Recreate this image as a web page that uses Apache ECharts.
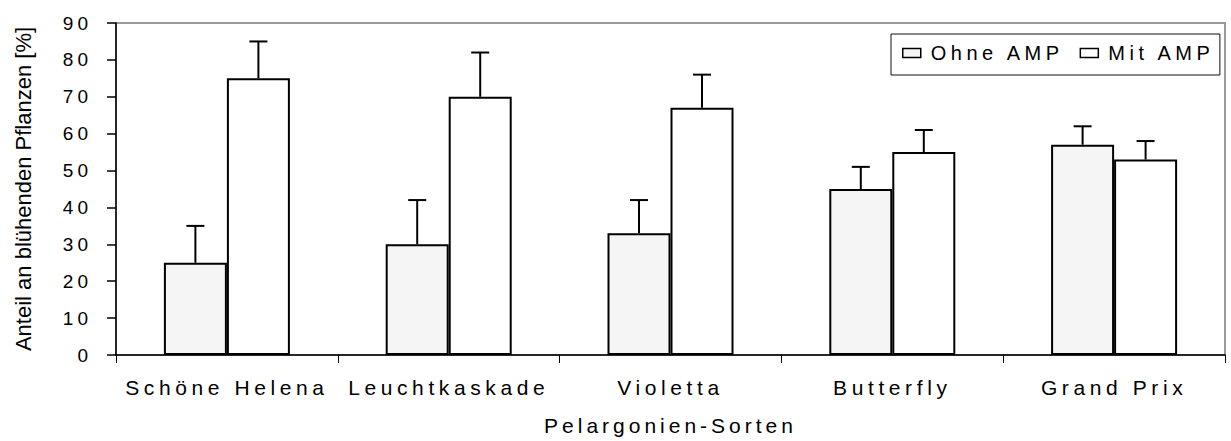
<!DOCTYPE html>
<html>
<head>
<meta charset="utf-8">
<script src="https://cdn.jsdelivr.net/npm/echarts@6/dist/echarts.min.js"></script>
<style>
html, body { margin: 0; padding: 0; background: #fff; }
#chart { width: 1231px; height: 441px; }
#chart text[style*="ytk"], #chart text[font-family*="ytk"] { letter-spacing: 4px; }
#chart text[style*="xct"], #chart text[font-family*="xct"] { letter-spacing: 4.6px; }
#chart text[style*="xtl"], #chart text[font-family*="xtl"] { letter-spacing: 4px; }
#chart text[style*="lgd"], #chart text[font-family*="lgd"] { letter-spacing: 4.5px; }
</style>
</head>
<body>
<div id="chart"></div>
<script>
// ---- data ----
const categories = ['Schöne Helena', 'Leuchtkaskade', 'Violetta', 'Butterfly', 'Grand Prix'];
const seriesNames = ['Ohne AMP', 'Mit AMP'];
const ohneAMP = [25, 30, 33, 45, 57];
const ohneAMPErr = [10, 12, 9, 6, 5];
const mitAMP = [75, 70, 67, 55, 53];
const mitAMPErr = [10, 12, 9, 6, 5];
const yMin = 0, yMax = 90, yInterval = 10;
const xAxisTitle = 'Pelargonien-Sorten';
const yAxisTitle = 'Anteil an blühenden Pflanzen [%]';

// ---- style ----
const BAR_W = 63;
const CAP_W = 18;
const FONT = 'Liberation Sans';

function errData(vals, errs) {
  return vals.map((v, i) => [i, v, errs[i]]);
}
function errRender(sign) {
  return function (params, api) {
    const x = api.value(0), v = api.value(1), e = api.value(2);
    const base = api.coord([x, v]);
    const top = api.coord([x, v + e]);
    const cx = base[0] + sign * BAR_W / 2;
    return {
      type: 'group',
      children: [
        { type: 'line', shape: { x1: cx, y1: base[1], x2: cx, y2: top[1] }, style: { stroke: '#000', lineWidth: 2 } },
        { type: 'line', shape: { x1: cx - CAP_W / 2, y1: top[1], x2: cx + CAP_W / 2, y2: top[1] }, style: { stroke: '#000', lineWidth: 2 } }
      ]
    };
  };
}

const chart = echarts.init(document.getElementById('chart'), null, { renderer: 'svg' });
chart.setOption({
  animation: false,
  backgroundColor: '#fff',
  grid: {
    left: 116, right: 6, top: 23, bottom: 81,
    show: true, borderColor: '#9a9a9a', borderWidth: 2, backgroundColor: 'transparent'
  },
  legend: {
    data: seriesNames,
    left: 891, top: 34,
    orient: 'horizontal',
    icon: 'rect',
    itemWidth: 18, itemHeight: 9, itemGap: 51,
    padding: [9, 36, 12, 11],
    borderColor: '#111', borderWidth: 1,
    backgroundColor: '#fff',
    itemStyle: { borderColor: '#000', borderWidth: 1.5 },
    textStyle: { color: '#000', fontSize: 20, fontFamily: FONT + ', lgd', padding: [0, 0, 0, 5] }
  },
  xAxis: {
    type: 'category',
    data: categories,
    boundaryGap: true,
    name: xAxisTitle,
    nameLocation: 'middle',
    nameGap: 60,
    nameTextStyle: { color: '#000', fontSize: 21, fontFamily: FONT + ', xtl' },
    axisLine: { lineStyle: { color: '#000', width: 1.5 } },
    axisTick: { show: true, length: 8, lineStyle: { color: '#000', width: 1 } },
    axisLabel: { color: '#000', fontSize: 21, fontFamily: FONT + ', xct', margin: 22, interval: 0 },
    splitLine: { show: false }
  },
  yAxis: {
    type: 'value',
    min: yMin, max: yMax, interval: yInterval,
    name: yAxisTitle,
    nameLocation: 'middle',
    nameRotate: 90,
    nameGap: 82,
    nameTextStyle: { color: '#000', fontSize: 22, fontFamily: FONT },
    axisLine: { show: true, lineStyle: { color: '#000', width: 1.5 } },
    axisTick: { show: true, inside: false, length: 9, lineStyle: { color: '#000', width: 1.5 } },
    axisLabel: { color: '#000', fontSize: 19, fontFamily: FONT + ', ytk', margin: 24 },
    splitLine: { show: false }
  },
  series: [
    {
      name: seriesNames[0], type: 'bar', data: ohneAMP,
      barWidth: BAR_W, barGap: '0%',
      itemStyle: { color: '#f5f5f5', borderColor: '#000', borderWidth: 2 }
    },
    {
      name: seriesNames[1], type: 'bar', data: mitAMP,
      barWidth: BAR_W, barGap: '0%',
      itemStyle: { color: '#ffffff', borderColor: '#000', borderWidth: 2 }
    },
    {
      name: 'Ohne AMP Fehler', type: 'custom', data: errData(ohneAMP, ohneAMPErr),
      encode: { x: 0, y: 1 }, renderItem: errRender(-1), z: 5
    },
    {
      name: 'Mit AMP Fehler', type: 'custom', data: errData(mitAMP, mitAMPErr),
      encode: { x: 0, y: 1 }, renderItem: errRender(1), z: 5
    }
  ]
});
</script>
</body>
</html>
